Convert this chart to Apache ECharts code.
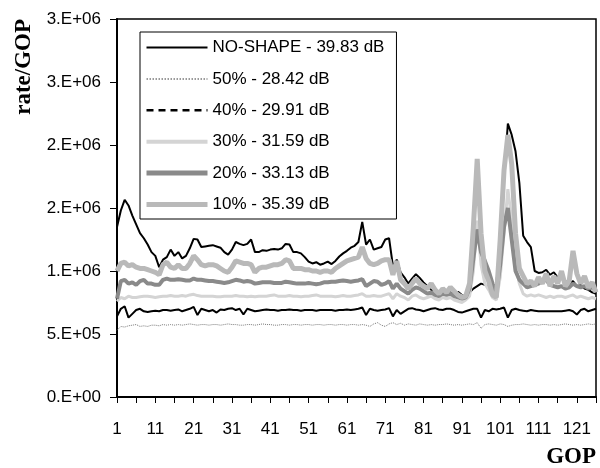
<!DOCTYPE html>
<html>
<head>
<meta charset="utf-8">
<script src="https://cdn.jsdelivr.net/npm/echarts@6/dist/echarts.min.js"></script>
<style>
  html, body { margin: 0; padding: 0; background: #fff; }
  #chart { width: 600px; height: 468px; }
</style>
</head>
<body>
<div id="chart"></div>
<script>
// GOP index along the x axis
const gops = Array.from({ length: 126 }, (_, i) => String(i + 1));

// Bit rate per GOP, in thousands of bits
const noShape = [
  1350,1480,1565,1520,1440,1370,1300,1260,1210,1150,
  1120,1030,1090,1110,1170,1120,1150,1100,1120,1180,
  1255,1250,1190,1195,1200,1205,1195,1185,1150,1130,
  1170,1230,1215,1205,1215,1250,1150,1150,1165,1160,
  1170,1175,1170,1180,1215,1210,1150,1150,1140,1110,
  1075,1060,1070,1050,1060,1075,1055,1080,1115,1140,
  1160,1185,1200,1230,1390,1210,1250,1170,1180,1190,
  1250,1260,1040,1090,990,950,900,940,975,945,
  910,880,850,840,830,840,845,830,820,835,
  810,790,830,860,880,900,890,870,860,900,
  1250,1750,2170,2080,1950,1700,1280,1230,1190,1000,
  985,990,1010,970,990,950,940,920,900,920,
  880,890,860,850,830,820
];
const shape50 = [
  530,560,555,565,570,575,560,565,560,570,
  570,565,575,570,575,570,575,570,575,580,
  575,570,575,575,570,575,575,570,575,580,
  575,575,570,570,575,575,570,575,580,575,
  575,570,570,575,575,570,575,575,570,575,
  575,570,575,575,570,575,575,570,575,575,
  570,575,575,570,575,570,560,580,590,570,
  560,580,590,575,585,570,580,575,570,580,
  575,570,575,570,575,575,580,575,570,575,
  570,575,580,575,590,545,575,580,575,570,
  580,575,560,570,575,575,580,575,570,575,
  570,575,575,570,575,570,575,580,575,570,
  575,570,575,580,575,580
];
const shape40 = [
  640,700,720,630,660,690,700,680,675,680,
  685,680,690,690,685,690,695,680,690,700,
  715,650,700,690,680,690,670,695,690,700,
  705,690,700,655,700,690,680,685,690,695,
  690,690,685,690,690,695,690,690,685,690,
  690,690,685,690,690,690,690,685,690,690,
  695,690,695,700,710,650,700,690,685,690,
  695,705,640,690,660,680,700,705,695,690,
  680,690,700,705,695,690,700,700,690,675,
  670,680,690,700,700,630,690,680,700,695,
  700,710,630,690,700,690,685,680,690,685,
  680,680,680,680,680,680,680,685,690,680,
  655,690,700,680,690,700
];
const shape30 = [
  760,790,780,800,790,790,795,800,800,795,
  790,795,800,800,805,800,800,805,800,810,
  815,805,800,800,800,800,795,795,800,800,
  800,805,800,800,795,800,795,800,800,800,
  805,810,800,800,800,805,800,800,795,800,
  800,805,810,800,800,800,800,795,800,805,
  800,800,805,810,820,800,800,805,800,800,
  810,820,780,820,800,790,770,800,810,790,
  780,790,800,780,770,790,780,790,770,760,
  750,770,800,1000,1400,1050,900,850,790,770,
  950,1300,1650,1400,1050,900,820,800,810,800,
  810,800,790,800,790,800,800,790,800,810,
  790,800,790,780,790,780
];
const shape20 = [
  780,920,930,900,910,890,920,930,900,900,
  890,890,930,940,930,930,935,930,925,925,
  940,930,930,925,920,920,915,910,905,910,
  920,930,925,915,920,915,900,905,910,910,
  910,905,905,905,915,910,905,900,900,900,
  905,900,895,900,910,910,915,915,920,925,
  920,915,920,925,935,880,900,920,915,890,
  900,920,860,900,860,840,820,850,870,860,
  840,820,830,810,800,820,810,820,800,790,
  780,790,860,1100,1330,1150,1080,1000,900,820,
  1050,1350,1500,1250,1000,930,900,870,880,890,
  900,920,930,890,880,870,880,860,870,900,
  880,870,880,860,870,840
];
const shape10 = [
  1000,1060,1070,1040,1050,1030,1020,1020,1010,1000,
  990,970,1050,1070,1030,1020,1050,1020,1020,1060,
  1120,1090,1050,1040,1050,1050,1040,1020,1000,990,
  1030,1080,1070,1060,1060,1050,990,1020,1030,1030,
  1040,1050,1050,1060,1090,1080,1020,1020,1020,1010,
  1010,1000,1000,990,1000,1000,990,1020,1040,1060,
  1080,1090,1100,1110,1190,1100,1060,1050,1060,1080,
  1090,1090,970,1080,930,900,860,900,940,900,
  880,860,900,850,820,860,830,870,840,810,
  790,800,900,1350,1890,1300,1000,920,810,790,
  1250,1800,2080,1850,1300,1020,960,900,920,880,
  950,900,980,880,960,900,1000,880,920,1160,
  980,900,960,870,910,830
];

const seriesNames = [
  'NO-SHAPE - 39.83 dB',
  '50% - 28.42 dB',
  '40% - 29.91 dB',
  '30% - 31.59 dB',
  '20% - 33.13 dB',
  '10% - 35.39 dB'
];

// Y tick labels in the spreadsheet's one-digit scientific format
const yTickLabels = ['0.E+00', '5.E+05', '1.E+06', '2.E+06', '2.E+06', '3.E+06', '3.E+06'];

const labelFont = 'Liberation Sans, Arial, sans-serif';
const titleFont = 'bold 23px "Liberation Serif", "Times New Roman", serif';

// Per-series stroke styles: colour, width, dash
const styles = [
  { color: '#000000', width: 2, type: 'solid' },
  { color: '#7a7a7a', width: 1, type: 'dotted' },
  { color: '#000000', width: 2, type: 'solid' },
  { color: '#d4d4d4', width: 3, type: 'solid' },
  { color: '#8a8a8a', width: 4, type: 'solid' },
  { color: '#b9b9b9', width: 5, type: 'solid' }
];
// Stroke used for the legend swatches
const legendStyles = [
  { width: 2, type: 'solid' },
  { width: 1.5, type: [1.5, 1.5] },
  { width: 2.5, type: [7, 5] },
  { width: 4, type: 'solid' },
  { width: 5, type: 'solid' },
  { width: 5, type: 'solid' }
];

const series = [noShape, shape50, shape40, shape30, shape20, shape10].map((data, k) => ({
  name: seriesNames[k],
  type: 'line',
  data: data,
  symbol: 'none',
  animation: false,
  lineStyle: { color: styles[k].color, width: styles[k].width, type: styles[k].type },
  itemStyle: { color: styles[k].color }
}));

const chart = echarts.init(document.getElementById('chart'), null, { renderer: 'canvas' });

chart.setOption({
  backgroundColor: '#ffffff',
  animation: false,
  grid: {
    left: 117, top: 19, right: 4, bottom: 71,
    show: true, borderColor: '#000', borderWidth: 1.5, backgroundColor: 'transparent'
  },
  legend: {
    orient: 'vertical',
    left: 140,
    top: 32,
    padding: [7, 12, 6, 4],
    itemWidth: 61,
    itemHeight: 16,
    itemGap: 14.4,
    backgroundColor: '#fff',
    borderColor: '#000',
    borderWidth: 1,
    borderRadius: 0,
    itemStyle: { opacity: 0 },
    textStyle: { fontFamily: labelFont, fontSize: 17, color: '#000', lineHeight: 16 },
    data: seriesNames.map((name, k) => ({
      name: name,
      itemStyle: { opacity: 0 },
      lineStyle: { width: legendStyles[k].width, type: legendStyles[k].type, color: styles[k].color }
    }))
  },
  xAxis: {
    type: 'category',
    data: gops,
    boundaryGap: false,
    axisLine: { lineStyle: { color: '#000', width: 2 } },
    axisTick: { show: true, interval: 4, length: 6, lineStyle: { color: '#000', width: 1 } },
    axisLabel: { interval: 9, margin: 24, fontFamily: labelFont, fontSize: 17, color: '#000' },
    splitLine: { show: false }
  },
  yAxis: {
    type: 'value',
    min: 0,
    max: 3000,
    interval: 500,
    axisLine: { show: true, lineStyle: { color: '#000', width: 2 } },
    axisTick: { show: true, length: 7, lineStyle: { color: '#000', width: 1 } },
    axisLabel: {
      margin: 16,
      fontFamily: labelFont,
      fontSize: 17,
      color: '#000',
      formatter: function (v) { return yTickLabels[Math.round(v / 500)]; }
    },
    splitLine: { show: false }
  },
  graphic: [
    {
      type: 'text',
      x: 24,
      y: 19,
      rotation: Math.PI / 2,
      style: { text: 'rate/GOP', font: titleFont, fill: '#000', textAlign: 'right', textVerticalAlign: 'middle' }
    },
    {
      type: 'text',
      x: 596,
      y: 457,
      style: { text: 'GOP', font: titleFont, fill: '#000', textAlign: 'right', textVerticalAlign: 'middle' }
    }
  ],
  series: series
});
</script>
</body>
</html>
